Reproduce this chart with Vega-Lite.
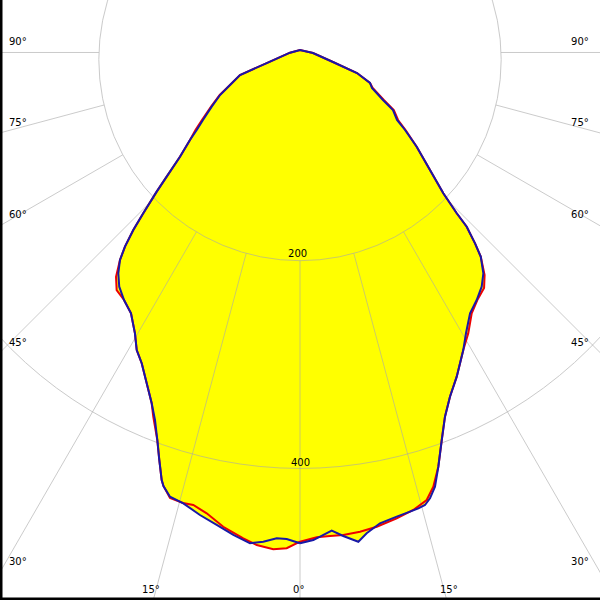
{
  "$schema": "https://vega.github.io/schema/vega-lite/v6.json",
  "width": 600,
  "height": 600,
  "padding": 0,
  "autosize": {"type": "none"},
  "background": "white",
  "config": {"view": {"stroke": null}},
  "datasets": {
    "c0": [
      {"i": 1, "h": 0, "v": -470.4},
      {"i": 2, "h": -12.8, "v": -476.7},
      {"i": 3, "h": -25.7, "v": -477.7},
      {"i": 4, "h": -41.6, "v": -473.6},
      {"i": 5, "h": -54.5, "v": -467.1},
      {"i": 6, "h": -73.8, "v": -456.0},
      {"i": 7, "h": -89.7, "v": -443.1},
      {"i": 8, "h": -102.6, "v": -435.1},
      {"i": 9, "h": -112.5, "v": -433.2},
      {"i": 10, "h": -125.0, "v": -428.4},
      {"i": 11, "h": -131.3, "v": -416.8},
      {"i": 12, "h": -133.0, "v": -411.1},
      {"i": 13, "h": -135.3, "v": -391.8},
      {"i": 14, "h": -137.2, "v": -372.6},
      {"i": 15, "h": -141.1, "v": -350.2},
      {"i": 16, "h": -142.6, "v": -337.3},
      {"i": 17, "h": -147.4, "v": -318.1},
      {"i": 18, "h": -152.2, "v": -298.8},
      {"i": 19, "h": -157.0, "v": -286.1},
      {"i": 20, "h": -158.7, "v": -270.0},
      {"i": 21, "h": -162.5, "v": -250.8},
      {"i": 22, "h": -169.2, "v": -238.0},
      {"i": 23, "h": -176.3, "v": -228.4},
      {"i": 24, "h": -176.9, "v": -215.6},
      {"i": 25, "h": -173.1, "v": -199.5},
      {"i": 26, "h": -168.3, "v": -186.7},
      {"i": 27, "h": -160.3, "v": -170.7},
      {"i": 28, "h": -150.7, "v": -154.6},
      {"i": 29, "h": -137.8, "v": -133.8},
      {"i": 30, "h": -128.2, "v": -119.4},
      {"i": 31, "h": -115.4, "v": -100.2},
      {"i": 32, "h": -105.8, "v": -84.1},
      {"i": 33, "h": -100.5, "v": -74.5},
      {"i": 34, "h": -94.3, "v": -64.9},
      {"i": 35, "h": -85.5, "v": -52.1},
      {"i": 36, "h": -77.2, "v": -40.9},
      {"i": 37, "h": -67.3, "v": -31.3},
      {"i": 38, "h": -57.7, "v": -21.6},
      {"i": 39, "h": -28.8, "v": -8.8},
      {"i": 40, "h": -9.6, "v": -0.2},
      {"i": 41, "h": 0, "v": 2.4},
      {"i": 42, "h": 12.5, "v": -0.5},
      {"i": 43, "h": 31.7, "v": -9.1},
      {"i": 44, "h": 54.8, "v": -19.7},
      {"i": 45, "h": 67.3, "v": -29.3},
      {"i": 46, "h": 69.9, "v": -34.1},
      {"i": 47, "h": 80.6, "v": -45.7},
      {"i": 48, "h": 90.2, "v": -55.3},
      {"i": 49, "h": 94.3, "v": -64.9},
      {"i": 50, "h": 101.5, "v": -74.5},
      {"i": 51, "h": 112.2, "v": -90.6},
      {"i": 52, "h": 125.0, "v": -113.0},
      {"i": 53, "h": 137.8, "v": -135.4},
      {"i": 54, "h": 150.7, "v": -154.6},
      {"i": 55, "h": 160.3, "v": -167.5},
      {"i": 56, "h": 168.3, "v": -183.5},
      {"i": 57, "h": 173.8, "v": -196.3},
      {"i": 58, "h": 177.5, "v": -214.0},
      {"i": 59, "h": 177.0, "v": -226.5},
      {"i": 60, "h": 170.5, "v": -238.0},
      {"i": 61, "h": 165.1, "v": -250.8},
      {"i": 62, "h": 161.8, "v": -270.0},
      {"i": 63, "h": 157.0, "v": -286.1},
      {"i": 64, "h": 150.7, "v": -311.7},
      {"i": 65, "h": 144.2, "v": -331.0},
      {"i": 66, "h": 139.4, "v": -350.2},
      {"i": 67, "h": 136.3, "v": -372.6},
      {"i": 68, "h": 133.0, "v": -398.3},
      {"i": 69, "h": 128.2, "v": -417.5},
      {"i": 70, "h": 121.8, "v": -430.3},
      {"i": 71, "h": 108.9, "v": -439.9},
      {"i": 72, "h": 93.0, "v": -447.9},
      {"i": 73, "h": 73.8, "v": -456.0},
      {"i": 74, "h": 57.7, "v": -460.8},
      {"i": 75, "h": 41.6, "v": -463.9},
      {"i": 76, "h": 28.8, "v": -464.9},
      {"i": 77, "h": 16.1, "v": -466.2},
      {"i": 78, "h": 0, "v": -470.4}
    ],
    "c90": [
      {"i": 1, "h": 0, "v": -471.9},
      {"i": 2, "h": -12.8, "v": -467.8},
      {"i": 3, "h": -22.4, "v": -467.1},
      {"i": 4, "h": -35.3, "v": -470.4},
      {"i": 5, "h": -48.1, "v": -471.9},
      {"i": 6, "h": -64.1, "v": -463.9},
      {"i": 7, "h": -80.1, "v": -454.3},
      {"i": 8, "h": -96.2, "v": -444.7},
      {"i": 9, "h": -112.2, "v": -433.5},
      {"i": 10, "h": -125.0, "v": -427.1},
      {"i": 11, "h": -131.3, "v": -416.8},
      {"i": 12, "h": -133.0, "v": -411.1},
      {"i": 13, "h": -135.3, "v": -391.8},
      {"i": 14, "h": -137.2, "v": -372.6},
      {"i": 15, "h": -139.4, "v": -353.4},
      {"i": 16, "h": -142.6, "v": -337.3},
      {"i": 17, "h": -147.4, "v": -318.1},
      {"i": 18, "h": -152.2, "v": -298.8},
      {"i": 19, "h": -157.0, "v": -286.1},
      {"i": 20, "h": -158.7, "v": -270.0},
      {"i": 21, "h": -162.5, "v": -250.8},
      {"i": 22, "h": -169.2, "v": -238.0},
      {"i": 23, "h": -173.8, "v": -225.2},
      {"i": 24, "h": -174.7, "v": -212.3},
      {"i": 25, "h": -173.1, "v": -199.5},
      {"i": 26, "h": -168.3, "v": -186.7},
      {"i": 27, "h": -160.3, "v": -170.7},
      {"i": 28, "h": -150.7, "v": -154.6},
      {"i": 29, "h": -137.8, "v": -133.8},
      {"i": 30, "h": -128.2, "v": -119.4},
      {"i": 31, "h": -115.4, "v": -100.2},
      {"i": 32, "h": -105.8, "v": -84.1},
      {"i": 33, "h": -99.3, "v": -74.5},
      {"i": 34, "h": -93.3, "v": -64.9},
      {"i": 35, "h": -84.9, "v": -52.1},
      {"i": 36, "h": -76.9, "v": -40.9},
      {"i": 37, "h": -67.3, "v": -31.3},
      {"i": 38, "h": -57.7, "v": -21.6},
      {"i": 39, "h": -28.8, "v": -8.8},
      {"i": 40, "h": -9.6, "v": -0.2},
      {"i": 41, "h": 0, "v": 2.4},
      {"i": 42, "h": 12.5, "v": -0.5},
      {"i": 43, "h": 31.7, "v": -9.1},
      {"i": 44, "h": 54.8, "v": -19.7},
      {"i": 45, "h": 67.3, "v": -29.3},
      {"i": 46, "h": 69.2, "v": -34.1},
      {"i": 47, "h": 79.8, "v": -45.7},
      {"i": 48, "h": 89.4, "v": -55.3},
      {"i": 49, "h": 93.3, "v": -64.9},
      {"i": 50, "h": 101.0, "v": -74.5},
      {"i": 51, "h": 112.2, "v": -90.6},
      {"i": 52, "h": 125.0, "v": -113.0},
      {"i": 53, "h": 137.8, "v": -135.4},
      {"i": 54, "h": 150.7, "v": -154.6},
      {"i": 55, "h": 160.3, "v": -167.5},
      {"i": 56, "h": 168.3, "v": -183.5},
      {"i": 57, "h": 173.8, "v": -196.3},
      {"i": 58, "h": 176.3, "v": -212.3},
      {"i": 59, "h": 174.7, "v": -225.2},
      {"i": 60, "h": 169.9, "v": -238.0},
      {"i": 61, "h": 163.5, "v": -250.8},
      {"i": 62, "h": 159.6, "v": -270.0},
      {"i": 63, "h": 157.0, "v": -286.1},
      {"i": 64, "h": 150.7, "v": -311.7},
      {"i": 65, "h": 144.2, "v": -331.0},
      {"i": 66, "h": 139.4, "v": -350.2},
      {"i": 67, "h": 136.3, "v": -372.6},
      {"i": 68, "h": 133.0, "v": -398.3},
      {"i": 69, "h": 129.8, "v": -417.5},
      {"i": 70, "h": 125.0, "v": -428.7},
      {"i": 71, "h": 120.2, "v": -435.1},
      {"i": 72, "h": 113.8, "v": -438.3},
      {"i": 73, "h": 105.8, "v": -441.5},
      {"i": 74, "h": 93.0, "v": -446.3},
      {"i": 75, "h": 76.9, "v": -452.7},
      {"i": 76, "h": 64.1, "v": -462.3},
      {"i": 77, "h": 56.1, "v": -470.4},
      {"i": 78, "h": 41.6, "v": -464.9},
      {"i": 79, "h": 30.5, "v": -459.8},
      {"i": 80, "h": 12.8, "v": -468.8},
      {"i": 81, "h": 0, "v": -471.9}
    ],
    "rings": [{"r": 200, "h": 0, "v": -6.73}, {"r": 400, "h": 0, "v": -6.73}],
    "spokes": [
      {"a": 0, "h1": 0, "v1": -200.2, "h2": 0, "v2": -700},
      {"a": 15, "h1": 51.75, "v1": -193.14, "h2": 181.2, "v2": -676.1},
      {"a": 30, "h1": 99.63, "v1": -172.56, "h2": 350, "v2": -606.2},
      {"a": 45, "h1": 140.12, "v1": -140.12, "h2": 494.97, "v2": -494.97},
      {"a": 60, "h1": 170.38, "v1": -98.37, "h2": 606.2, "v2": -350},
      {"a": 75, "h1": 188.45, "v1": -50.5, "h2": 676.1, "v2": -181.2},
      {"a": 90, "h1": 193.35, "v1": 0, "h2": 700, "v2": 0},
      {"a": -15, "h1": -51.75, "v1": -193.14, "h2": -181.2, "v2": -676.1},
      {"a": -30, "h1": -99.63, "v1": -172.56, "h2": -350, "v2": -606.2},
      {"a": -45, "h1": -140.12, "v1": -140.12, "h2": -494.97, "v2": -494.97},
      {"a": -60, "h1": -170.38, "v1": -98.37, "h2": -606.2, "v2": -350},
      {"a": -75, "h1": -188.45, "v1": -50.5, "h2": -676.1, "v2": -181.2},
      {"a": -90, "h1": -193.35, "v1": 0, "h2": -700, "v2": 0}
    ],
    "labels": [
      {"t": "90°", "h": -279.8, "v": 7.2},
      {"t": "75°", "h": -279.8, "v": -70.7},
      {"t": "60°", "h": -279.8, "v": -159.1},
      {"t": "45°", "h": -279.8, "v": -282.2},
      {"t": "30°", "h": -279.8, "v": -492.8},
      {"t": "15°", "h": -151.9, "v": -519.7},
      {"t": "0°", "h": -6.7, "v": -519.7},
      {"t": "15°", "h": 134.6, "v": -519.7},
      {"t": "30°", "h": 260.6, "v": -492.8},
      {"t": "45°", "h": 260.6, "v": -282.2},
      {"t": "60°", "h": 260.6, "v": -159.1},
      {"t": "75°", "h": 260.6, "v": -70.7},
      {"t": "90°", "h": 260.6, "v": 7.2},
      {"t": "200", "h": -11.5, "v": -196.6},
      {"t": "400", "h": -8.7, "v": -397.6}
    ]
  },
  "encoding": {
    "x": {"type": "quantitative", "scale": {"domain": [-288.46, 288.46], "nice": false, "zero": false}, "axis": null},
    "y": {"type": "quantitative", "scale": {"domain": [-526.44, 50.48], "nice": false, "zero": false}, "axis": null}
  },
  "layer": [
    {
      "data": {"name": "c0"},
      "mark": {"type": "line", "fill": "#ffff00", "stroke": null, "strokeWidth": 0},
      "encoding": {"x": {"field": "h"}, "y": {"field": "v"}, "order": {"field": "i", "type": "quantitative"}}
    },
    {
      "data": {"name": "c90"},
      "mark": {"type": "line", "fill": "#ffff00", "stroke": null, "strokeWidth": 0},
      "encoding": {"x": {"field": "h"}, "y": {"field": "v"}, "order": {"field": "i", "type": "quantitative"}}
    },
    {
      "data": {"name": "rings"},
      "mark": {"type": "point", "shape": "circle", "filled": false, "stroke": "#a8a8a8", "strokeWidth": 1, "opacity": 0.6},
      "encoding": {
        "x": {"field": "h"},
        "y": {"field": "v"},
        "size": {"field": "r", "type": "quantitative", "scale": {"type": "pow", "exponent": 2, "domain": [200, 400], "range": [161926, 668470], "zero": false}, "legend": null}
      }
    },
    {
      "data": {"name": "spokes"},
      "mark": {"type": "rule", "stroke": "#a8a8a8", "strokeWidth": 1, "opacity": 0.6},
      "encoding": {"x": {"field": "h1"}, "y": {"field": "v1"}, "x2": {"field": "h2"}, "y2": {"field": "v2"}}
    },
    {
      "data": {"name": "c0"},
      "mark": {"type": "line", "stroke": "#ee0000", "strokeWidth": 2},
      "encoding": {"x": {"field": "h"}, "y": {"field": "v"}, "order": {"field": "i", "type": "quantitative"}}
    },
    {
      "data": {"name": "c90"},
      "mark": {"type": "line", "stroke": "#1818a8", "strokeWidth": 2},
      "encoding": {"x": {"field": "h"}, "y": {"field": "v"}, "order": {"field": "i", "type": "quantitative"}}
    },
    {
      "data": {"name": "labels"},
      "mark": {"type": "text", "align": "left", "baseline": "alphabetic", "font": "DejaVu Sans", "fontSize": 10, "color": "black"},
      "encoding": {"x": {"field": "h"}, "y": {"field": "v"}, "text": {"field": "t"}}
    },
    {
      "data": {"values": [{"edge": "left"}]},
      "mark": {"type": "rule", "stroke": "black", "strokeWidth": 5},
      "encoding": {"x": {"datum": -288.46}, "y": {"datum": 50.48}, "y2": {"datum": -526.44}}
    },
    {
      "data": {"values": [{"edge": "bottom"}]},
      "mark": {"type": "rule", "stroke": "black", "strokeWidth": 5},
      "encoding": {"x": {"datum": -288.46}, "x2": {"datum": 288.46}, "y": {"datum": -526.44}}
    }
  ]
}
